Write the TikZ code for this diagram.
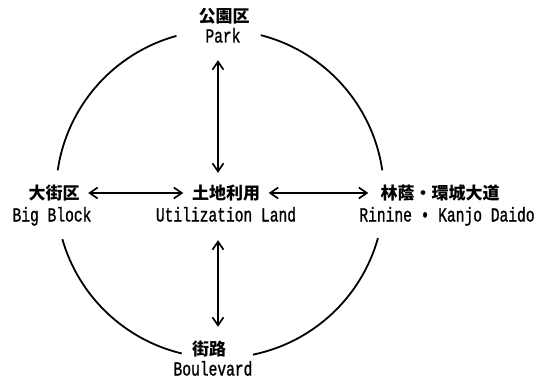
\documentclass[tikz,border=0pt]{standalone}
\usepackage{fontspec}
\usetikzlibrary{arrows.meta}
\newfontfamily\cjk{Noto Sans CJK JP}
\newfontfamily\mono[FakeStretch=0.73,FakeBold=1]{Liberation Mono}
\begin{document}
\begin{tikzpicture}[x=1pt,y=1pt,
  jp/.style={font=\cjk\bfseries\fontsize{17}{17}\selectfont, inner sep=0pt, text height=14pt, text depth=2pt},
  en/.style={font=\mono\fontsize{20}{20}\selectfont, inner sep=0pt, text height=12pt, text depth=3pt},
  tip/.tip={Straight Barb[length=8pt,width=11pt,line width=1.7pt]},
  arr/.style={tip-tip, line width=1.8pt},
  ring/.style={line width=1.8pt}]
\useasboundingbox (0,0) rectangle (546,381);
% labels
\node[jp] (kouen) at (224,364) {公園区};
\node[en] (park) at (223,343) {Park};
\node[jp] (daigai) at (54,188) {大街区};
\node[en] (bigblock) at (52,164) {Big Block};
\node[jp] (tochi) at (226,188) {土地利用};
\node[en] (util) at (226,164) {Utilization Land};
\node[jp] (rin) at (440,188) {林蔭・環城大道};
\node[en] (rinine) at (447,164) {Rinine • Kanjo Daido};
\node[jp] (gairo) at (209,32) {街路};
\node[en] (boulevard) at (213,10) {Boulevard};
% ring
\coordinate (c) at (220,187);
\draw[ring] (c) ++(105.4:164) arc[start angle=105.4, end angle=171.7, radius=164];
\draw[ring] (c) ++(196:164) arc[start angle=196, end angle=256.5, radius=164];
\draw[ring] (c) ++(281.6:164) arc[start angle=281.6, end angle=344.4, radius=164];
\draw[ring] (c) ++(8.3:164) arc[start angle=8.3, end angle=75.6, radius=164];
% arrows
\coordinate (axis) at (218,187);
\draw[arr, shorten <=8.5pt, shorten >=8.5pt] (daigai.east) -- (tochi.west);
\draw[arr, shorten <=8.5pt, shorten >=12pt] (tochi.east) -- (rin.west);
\draw[arr, shorten <=14.5pt, shorten >=12pt] (axis |- park.south) -- (axis |- tochi.north);
\draw[arr, shorten <=15.5pt, shorten >=14pt] (axis |- util.south) -- (axis |- gairo.north);
\end{tikzpicture}
\end{document}
